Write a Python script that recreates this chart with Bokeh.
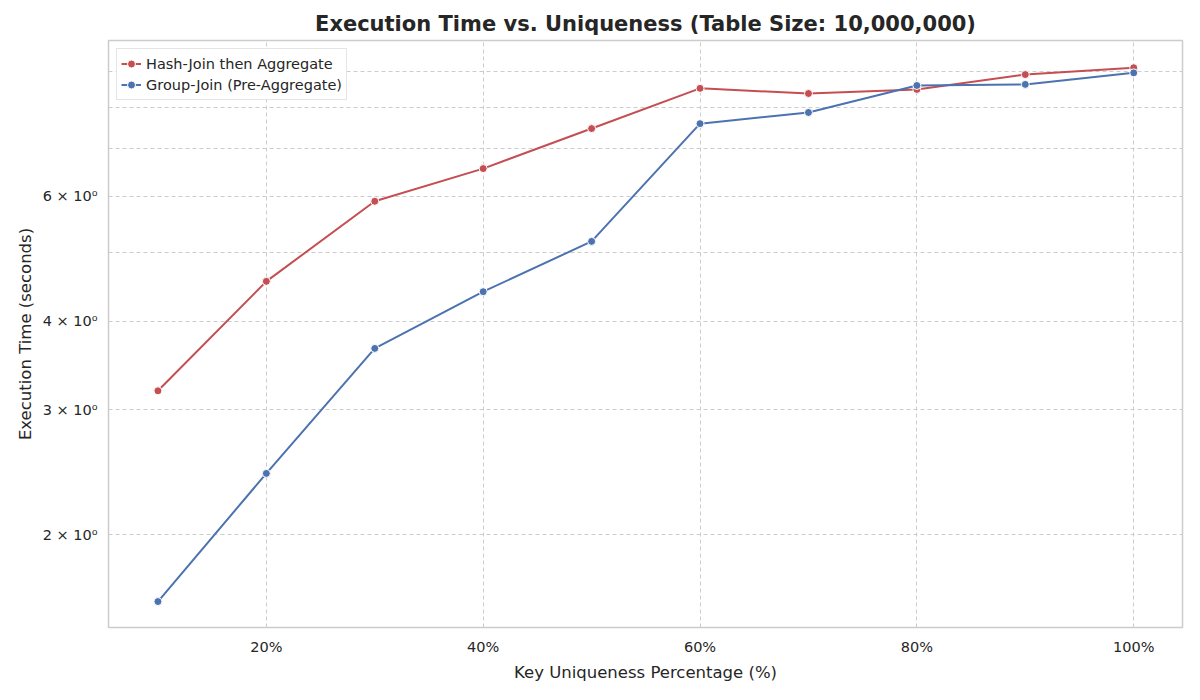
from bokeh.plotting import figure
from bokeh.models import FixedTicker, Range1d
from bokeh.embed import file_html
from bokeh.resources import INLINE

uniqueness = [10, 20, 30, 40, 50, 60, 70, 80, 90, 100]
hash_join = [3.19, 4.55, 5.90, 6.56, 7.47, 8.51, 8.37, 8.48, 8.90, 9.10]
group_join = [1.61, 2.44, 3.66, 4.40, 5.18, 7.59, 7.87, 8.59, 8.62, 8.95]

y_ticks = [2, 3, 4, 5, 6, 7, 8, 9]
y_labels = {2: "2 × 10⁰", 3: "3 × 10⁰", 4: "4 × 10⁰", 5: "", 6: "6 × 10⁰", 7: "", 8: "", 9: ""}
x_ticks = [20, 40, 60, 80, 100]

FONT = "DejaVu Sans"

p = figure(width=1184, height=684, y_axis_type="log",
           title="Execution Time vs. Uniqueness (Table Size: 10,000,000)",
           x_axis_label="Key Uniqueness Percentage (%)",
           y_axis_label="Execution Time (seconds)",
           output_backend="svg", toolbar_location=None,
           min_border_left=108, min_border_right=2,
           min_border_top=40, min_border_bottom=54)
p.x_range = Range1d(5.44, 104.5)
p.y_range = Range1d(1.48, 9.94)

p.title.align = "center"
p.title.text_font = FONT
p.title.text_font_size = "21px"
p.title.text_color = "#262626"

p.xaxis.ticker = FixedTicker(ticks=x_ticks)
p.xaxis.major_label_overrides = {t: f"{t}%" for t in x_ticks}
p.yaxis.ticker = FixedTicker(ticks=y_ticks, minor_ticks=[])
p.yaxis.major_label_overrides = y_labels
for ax in (p.xaxis, p.yaxis):
    ax.axis_line_color = None
    ax.major_tick_line_color = None
    ax.minor_tick_line_color = None
    ax.major_label_text_font = FONT
    ax.major_label_text_font_size = "14.5px"
    ax.major_label_text_color = "#262626"
    ax.axis_label_text_font = FONT
    ax.axis_label_text_font_size = "16.5px"
    ax.axis_label_text_font_style = "normal"
    ax.axis_label_text_color = "#262626"

p.grid.grid_line_color = "#cccccc"
p.grid.grid_line_dash = "4 3"
p.grid.grid_line_width = 1
p.outline_line_color = "#cccccc"
p.outline_line_width = 1.5

red = "#c44e52"
blue = "#4c72b0"
p.line(uniqueness, hash_join, color=red, line_width=2, legend_label="Hash-Join then Aggregate")
p.scatter(uniqueness, hash_join, color=red, line_color="white", size=8, legend_label="Hash-Join then Aggregate")
p.line(uniqueness, group_join, color=blue, line_width=2, legend_label="Group-Join (Pre-Aggregate)")
p.scatter(uniqueness, group_join, color=blue, line_color="white", size=8, legend_label="Group-Join (Pre-Aggregate)")

p.legend.location = "top_left"
p.legend.label_text_font = FONT
p.legend.label_text_font_size = "14.5px"
p.legend.label_text_color = "#262626"
p.legend.border_line_color = "#cccccc"
p.legend.spacing = 0
p.legend.padding = 4
p.legend.margin = 8
p.legend.glyph_height = 21

open("out.html", "w").write(file_html(p, INLINE))
